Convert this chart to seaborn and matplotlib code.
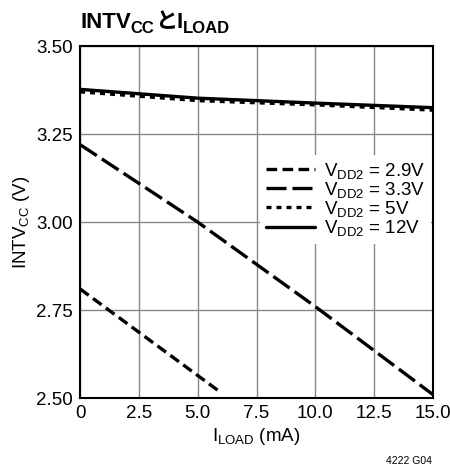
import matplotlib
matplotlib.use("Agg")
import matplotlib.pyplot as plt
from matplotlib import font_manager
from matplotlib.lines import Line2D
import seaborn as sns
import pandas as pd

names = {f.name for f in font_manager.fontManager.ttflist}
base = "Liberation Sans Narrow" if "Liberation Sans Narrow" in names else "Liberation Sans"

# data
x_29 = [0, 6.0]
y_29 = [2.81, 2.515]
x_33 = [0, 5, 10, 15]
y_33 = [3.22, 3.00, 2.76, 2.51]
x_5 = [0, 5, 10, 15]
y_5 = [3.37, 3.345, 3.333, 3.318]
x_12 = [0, 5, 10, 15]
y_12 = [3.377, 3.352, 3.338, 3.325]
labels = ["2.9V", "3.3V", "5V", "12V"]
xticks = [0, 2.5, 5.0, 7.5, 10.0, 12.5, 15.0]
xticklabels = ["0", "2.5", "5.0", "7.5", "10.0", "12.5", "15.0"]
yticks = [2.50, 2.75, 3.00, 3.25, 3.50]

sns.set_theme(style="white")
plt.rcParams['font.family'] = [base, 'Noto Sans CJK JP', 'DejaVu Sans']
plt.rcParams['mathtext.default'] = 'regular'
plt.rcParams['text.color'] = 'black'
plt.rcParams['axes.labelcolor'] = 'black'
plt.rcParams['xtick.color'] = 'black'
plt.rcParams['ytick.color'] = 'black'

frames = []
for xs, ys, lab in [(x_29, y_29, labels[0]), (x_33, y_33, labels[1]),
                    (x_5, y_5, labels[2]), (x_12, y_12, labels[3])]:
    frames.append(pd.DataFrame({"x": xs, "y": ys, "s": lab}))
df = pd.concat(frames, ignore_index=True)

fig = plt.figure(figsize=(4.5, 4.7), dpi=100)
ax = fig.add_axes([0.178, 0.153, 0.784, 0.749])

LW = 2.4
dashes = {"2.9V": (3.2, 1.6), "3.3V": (6, 1.8), "5V": (1.5, 1.5), "12V": ""}
sns.lineplot(data=df, x="x", y="y", hue="s", style="s", dashes=dashes,
             palette={l: "black" for l in labels}, linewidth=LW, ax=ax,
             legend=False, sort=False)

FS = 13.5
ax.set_xlim(0, 15)
ax.set_ylim(2.5, 3.5)
ax.set_xticks(xticks)
ax.set_xticklabels(xticklabels, fontsize=FS)
ax.set_yticks(yticks)
ax.set_yticklabels([f"{v:.2f}" for v in yticks], fontsize=FS)
ax.tick_params(length=0, pad=5, colors="black")
ax.grid(True, color="#888888", linewidth=1)
for sp in ax.spines.values():
    sp.set_color("black")
    sp.set_linewidth(1.5)

ax.set_xlabel("I$_{LOAD}$ (mA)", fontsize=FS, labelpad=3, color="black")
ax.set_ylabel("INTV$_{CC}$ (V)", fontsize=FS, labelpad=3, color="black")

handles = []
for lab in labels:
    d = dashes[lab]
    h = Line2D([], [], color="black", linewidth=LW)
    if d:
        h.set_dashes(d)
    handles.append(h)
leg = ax.legend(handles, [f"V$_{{DD2}}$ = {l}" for l in labels], loc="upper right",
                bbox_to_anchor=(1.0, 0.695), fontsize=FS, frameon=True,
                handlelength=2.6, labelspacing=-0.05, borderpad=0.3,
                handletextpad=0.5, borderaxespad=0.1)
leg.get_frame().set_facecolor("white")
leg.get_frame().set_edgecolor("none")
leg.get_frame().set_alpha(1)
for t in leg.get_texts():
    t.set_color("black")

# title built from pieces (main text, subscripts, Japanese character)
fig.canvas.draw()
renderer = fig.canvas.get_renderer()
pieces = [("INTV", 16, 0, base), ("CC", 12, -5, base), ("と", 16, 0, "Noto Sans CJK JP"),
          ("I", 16, 0, base), ("LOAD", 12, -5, base)]
xpix = 0.178 * 450
ybase = 470 - 28
for txt, size, dy, fam in pieces:
    t = fig.text(xpix / 450, (ybase + dy) / 470, txt, fontsize=size, fontweight="bold",
                 family=[fam, 'DejaVu Sans'], ha="left", va="baseline", color="black")
    bb = t.get_window_extent(renderer=renderer)
    xpix = bb.x1

fig.text(0.96, 0.008, "4222 G04", fontsize=7.5, ha="right", va="bottom", color="black")

fig.savefig("out.png", dpi=100)
